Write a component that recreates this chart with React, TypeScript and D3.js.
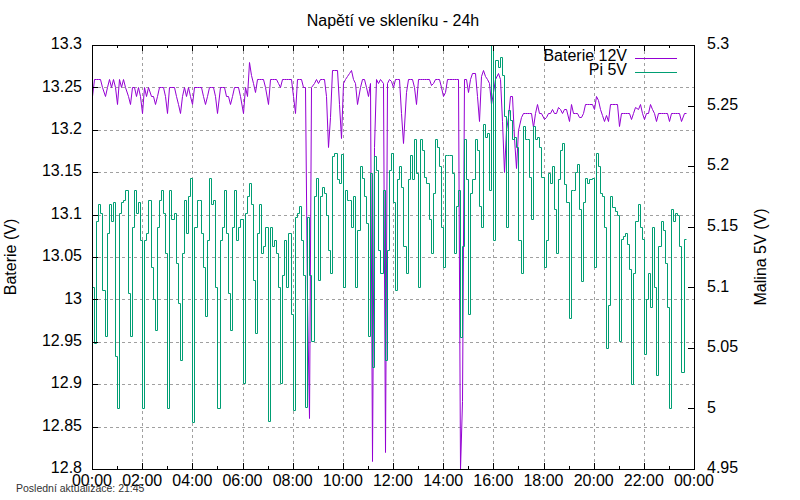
import * as d3 from 'd3';
import React from 'react';

// samples every 5 minutes from 00:00
const sampleStepMin = 5;

// Baterie 12V (left axis)
const baterie = [
  13.24, 13.26, 13.26, 13.26, 13.26, 13.25, 13.24, 13.25, 13.26, 13.25,
  13.26, 13.25, 13.23, 13.26, 13.25, 13.26, 13.25, 13.24, 13.23, 13.25,
  13.25, 13.24, 13.25, 13.24, 13.22, 13.25, 13.24, 13.25, 13.24, 13.24,
  13.23, 13.24, 13.25, 13.25, 13.25, 13.24, 13.22, 13.25, 13.25, 13.25,
  13.24, 13.23, 13.22, 13.24, 13.25, 13.24, 13.25, 13.24, 13.23, 13.25,
  13.25, 13.25, 13.25, 13.24, 13.23, 13.24, 13.25, 13.25, 13.25, 13.24,
  13.22, 13.25, 13.25, 13.25, 13.24, 13.24, 13.23, 13.24, 13.25, 13.25,
  13.25, 13.24, 13.22, 13.25,
  13.24, 13.28, 13.265, 13.255, 13.245, 13.26, 13.26, 13.26, 13.26, 13.25,
  13.23, 13.26, 13.26, 13.26, 13.26, 13.255, 13.25, 13.26, 13.26, 13.26,
  13.26, 13.26, 13.24, 13.22, 13.26, 13.26, 13.26, 13.25, 13.25, 13.0,
  12.86, 13.25, 13.255, 13.26, 13.255, 13.26, 13.26, 13.26, 13.24, 13.18,
  13.215, 13.27, 13.27, 13.27, 13.23, 13.19, 13.255, 13.26, 13.263, 13.267,
  13.27, 13.26, 13.255, 13.23, 13.25, 13.26, 13.26, 13.25, 13.24, 13.255,
  12.81, 13.18, 13.26, 13.255, 13.26, 13.255, 12.82, 13.255, 13.26, 13.257,
  13.25, 13.26,
  13.26, 13.26, 13.22, 13.185, 13.245, 13.26, 13.26, 13.26, 13.25, 13.231,
  13.26, 13.26, 13.26, 13.26, 13.26, 13.26, 13.253, 13.255, 13.26, 13.26,
  13.26, 13.25, 13.24, 13.245, 13.26, 13.26, 13.26, 13.26, 13.26, 13.26,
  12.80, 12.88, 13.26, 13.26, 13.245, 13.26, 13.267, 13.267, 13.24, 13.21,
  13.263, 13.27, 13.263, 13.26, 13.255, 13.23, 13.245, 13.26, 13.267, 13.26,
  13.21, 13.15, 13.20, 13.215, 13.24, 13.24, 13.19, 13.155, 13.20, 13.215,
  13.22, 13.22, 13.22, 13.22, 13.22, 13.203, 13.22, 13.23, 13.22, 13.22,
  13.213, 13.215,
  13.22, 13.22, 13.225, 13.22, 13.22, 13.227, 13.225, 13.22, 13.225, 13.225,
  13.21, 13.23, 13.22, 13.22, 13.22, 13.215, 13.215, 13.22, 13.23, 13.23,
  13.23, 13.23, 13.225, 13.24, 13.235, 13.225, 13.218, 13.21, 13.218, 13.21,
  13.23, 13.23, 13.23, 13.23, 13.205, 13.22, 13.22, 13.22, 13.22, 13.22,
  13.213, 13.22, 13.227, 13.225, 13.23, 13.22, 13.213, 13.22, 13.22, 13.23,
  13.225, 13.22, 13.21, 13.22, 13.22, 13.22, 13.22, 13.22, 13.21, 13.22,
  13.22, 13.22, 13.22, 13.22, 13.21, 13.22, 13.22,
];

// Pi 5V (right axis)
const pi = [
  5.100, 5.054, 5.155, 5.169, 5.161, 5.098, 5.060, 5.145, 5.169, 5.155,
  5.170, 5.043, 5.000, 5.161, 5.170, 5.172, 5.180, 5.095, 5.060, 5.150,
  5.180, 5.161, 5.170, 5.139, 5.000, 5.139, 5.145, 5.172, 5.117, 5.090,
  5.065, 5.150, 5.172, 5.180, 5.161, 5.128, 5.000, 5.180, 5.156, 5.161,
  5.120, 5.087, 5.040, 5.128, 5.172, 5.145, 5.175, 5.190, 4.989, 5.150,
  5.172, 5.172, 5.145, 5.117, 5.076, 5.139, 5.190, 5.169, 5.172, 5.100,
  5.000, 5.139, 5.150, 5.180, 5.145, 5.095, 5.065, 5.150, 5.180, 5.139,
  5.150, 5.156, 5.021, 5.161,
  5.175, 5.186, 5.169, 5.106, 5.062, 5.145, 5.169, 5.128, 5.134, 5.150,
  4.990, 5.150, 5.134, 5.139, 5.128, 5.100, 5.021, 5.110, 5.139, 5.100,
  5.145, 5.078, 4.999, 5.158, 5.161, 5.167, 5.139, 5.110, 5.001, 5.158,
  5.110, 5.056, 5.175, 5.190, 5.106, 5.175, 5.183, 5.178, 5.160, 5.131,
  5.112, 5.208, 5.211, 5.189, 5.186, 5.210, 5.100, 5.180, 5.172, 5.172,
  5.150, 5.175, 5.100, 5.147, 5.200, 5.190, 5.175, 5.153, 5.060, 5.194,
  5.034, 5.208, 5.197, 5.131, 5.112, 5.180, 5.040, 5.131, 5.197, 5.211,
  5.170, 5.098,
  5.189, 5.200, 5.183, 5.134, 5.112, 5.189, 5.209, 5.189, 5.222, 5.194,
  5.100, 5.222, 5.213, 5.191, 5.186, 5.156, 5.128, 5.178, 5.222, 5.216,
  5.200, 5.150, 5.117, 5.209, 5.209, 5.209, 5.194, 5.128, 5.167, 5.180,
  5.059, 5.134, 5.222, 5.189, 5.078, 5.178, 5.189, 5.222, 5.213, 5.167,
  5.150, 5.235, 5.224, 5.227, 5.180, 5.300, 5.139, 5.288, 5.282, 5.290,
  5.275, 5.241, 5.150, 5.246, 5.238, 5.222, 5.224, 5.216, 5.139, 5.112,
  5.233, 5.222, 5.222, 5.191, 5.156, 5.233, 5.222, 5.224, 5.216, 5.191,
  5.117, 5.139,
  5.194, 5.186, 5.200, 5.165, 5.128, 5.189, 5.213, 5.219, 5.185, 5.170,
  5.075, 5.180, 5.180, 5.195, 5.202, 5.165, 5.105, 5.170, 5.190, 5.186,
  5.189, 5.190, 5.117, 5.211, 5.200, 5.178, 5.175, 5.150, 5.050, 5.085,
  5.175, 5.166, 5.163, 5.160, 5.056, 5.140, 5.142, 5.145, 5.136, 5.115,
  5.020, 5.112, 5.155, 5.169, 5.150, 5.140, 5.045, 5.090, 5.112, 5.084,
  5.150, 5.100, 5.028, 5.134, 5.155, 5.147, 5.120, 5.084, 5.000, 5.165,
  5.155, 5.161, 5.160, 5.134, 5.030, 5.140, 5.140,
];

const leftDomain = [12.8, 13.3];
const rightDomain = [4.95, 5.3];
const title = 'Napětí ve skleníku - 24h';
const lastUpdate = 'Poslední aktualizace: 21:45';

const W = 800;
const H = 500;
const L = 92, R = 694, T = 45, B = 469;
const font = '"Liberation Sans", Arial, sans-serif';
const px = (v: number) => Math.round(v) + 0.5;

const App: React.FC = () => {
  const start = new Date(2024, 0, 1, 0, 0);
  const end = new Date(2024, 0, 2, 0, 0);
  const x = d3.scaleTime().domain([start, end]).range([L, R]);
  const yL = d3.scaleLinear().domain(leftDomain).range([B, T]);
  const yR = d3.scaleLinear().domain(rightDomain).range([B, T]);
  const t = (i: number) => d3.timeMinute.offset(start, i * sampleStepMin);

  const lineBat = d3.line<number>().x((_d, i) => px(x(t(i)))).y(d => px(yL(d)));
  const linePi = d3.line<number>().x((_d, i) => px(x(t(i)))).y(d => px(yR(d))).curve(d3.curveStepAfter);

  const majorX = x.ticks(d3.timeHour.every(2)!);
  const minorX = x.ticks(d3.timeHour.every(1)!);
  const leftTicks = d3.range(0, 11).map(k => +(12.8 + k * 0.05).toFixed(2));
  const rightTicks = d3.range(0, 8).map(k => +(4.95 + k * 0.05).toFixed(2));
  const fmt = d3.timeFormat('%H:%M');
  const num = (v: number) => String(+v.toFixed(2));

  return (
    <div style={{ position: 'absolute', left: 0, top: 0 }}>
      <svg width={W} height={H} style={{ display: 'block', background: '#fff' }} fontFamily={font}>
        <defs>
          <clipPath id="plot">
            <rect x={L} y={T} width={R - L + 1} height={B - T + 1} />
          </clipPath>
        </defs>
        {/* grid */}
        <g stroke="#a0a0a0" strokeWidth={1} strokeDasharray="3,3">
          {leftTicks.filter(v => v > 12.8 && v < 13.3).map(v => (
            <line key={'gy' + v} x1={L} x2={R} y1={px(yL(v))} y2={px(yL(v))} />
          ))}
          {majorX.filter((_d, i) => i > 0 && i < majorX.length - 1).map(d => (
            <line key={'gx' + d.getTime()} x1={px(x(d))} x2={px(x(d))} y1={T} y2={B} />
          ))}
        </g>
        {/* data */}
        <g clipPath="url(#plot)" fill="none" strokeWidth={1}>
          <path d={lineBat(baterie) ?? ''} stroke="#9400d3" />
          <path d={linePi(pi) ?? ''} stroke="#009e73" />
        </g>
        {/* ticks */}
        <g stroke="#000" strokeWidth={1}>
          {minorX.map(d => {
            const major = d.getHours() % 2 === 0;
            const len = major ? 6 : 3;
            const xx = px(x(d));
            return (
              <g key={'tx' + d.getTime()}>
                <line x1={xx} x2={xx} y1={B} y2={B - len} />
                <line x1={xx} x2={xx} y1={T} y2={T + len} />
              </g>
            );
          })}
          {leftTicks.map(v => (
            <line key={'tl' + v} x1={L} x2={L + 6} y1={px(yL(v))} y2={px(yL(v))} />
          ))}
          {rightTicks.map(v => (
            <line key={'tr' + v} x1={R} x2={R - 6} y1={px(yR(v))} y2={px(yR(v))} />
          ))}
          <rect x={L + 0.5} y={T + 0.5} width={R - L} height={B - T} fill="none" />
        </g>
        {/* tick labels */}
        <g fontSize={16} fill="#000">
          {leftTicks.map(v => (
            <text key={'ll' + v} x={82} y={yL(v)} textAnchor="end" dominantBaseline="middle">{num(v)}</text>
          ))}
          {rightTicks.map(v => (
            <text key={'rl' + v} x={707} y={yR(v)} textAnchor="start" dominantBaseline="middle">{num(v)}</text>
          ))}
          {majorX.map(d => (
            <text key={'xl' + d.getTime()} x={x(d)} y={482} textAnchor="middle" dominantBaseline="middle">{fmt(d)}</text>
          ))}
          <text x={393} y={22} textAnchor="middle" dominantBaseline="middle">{title}</text>
          <text transform={`translate(12,${(T + B) / 2}) rotate(-90)`} textAnchor="middle" dominantBaseline="middle">Baterie (V)</text>
          <text transform={`translate(762,${(T + B) / 2}) rotate(-90)`} textAnchor="middle" dominantBaseline="middle">Malina 5V (V)</text>
          {/* legend */}
          <text x={627} y={57} textAnchor="end" dominantBaseline="middle">Baterie 12V</text>
          <text x={627} y={71} textAnchor="end" dominantBaseline="middle">Pi 5V</text>
        </g>
        <g strokeWidth={1}>
          <line x1={635} x2={677} y1={58.5} y2={58.5} stroke="#9400d3" />
          <line x1={635} x2={677} y1={72.5} y2={72.5} stroke="#009e73" />
        </g>
        <text x={16} y={489} fontSize={10.5} fill="#333" dominantBaseline="middle">{lastUpdate}</text>
      </svg>
    </div>
  );
};

export default App;
